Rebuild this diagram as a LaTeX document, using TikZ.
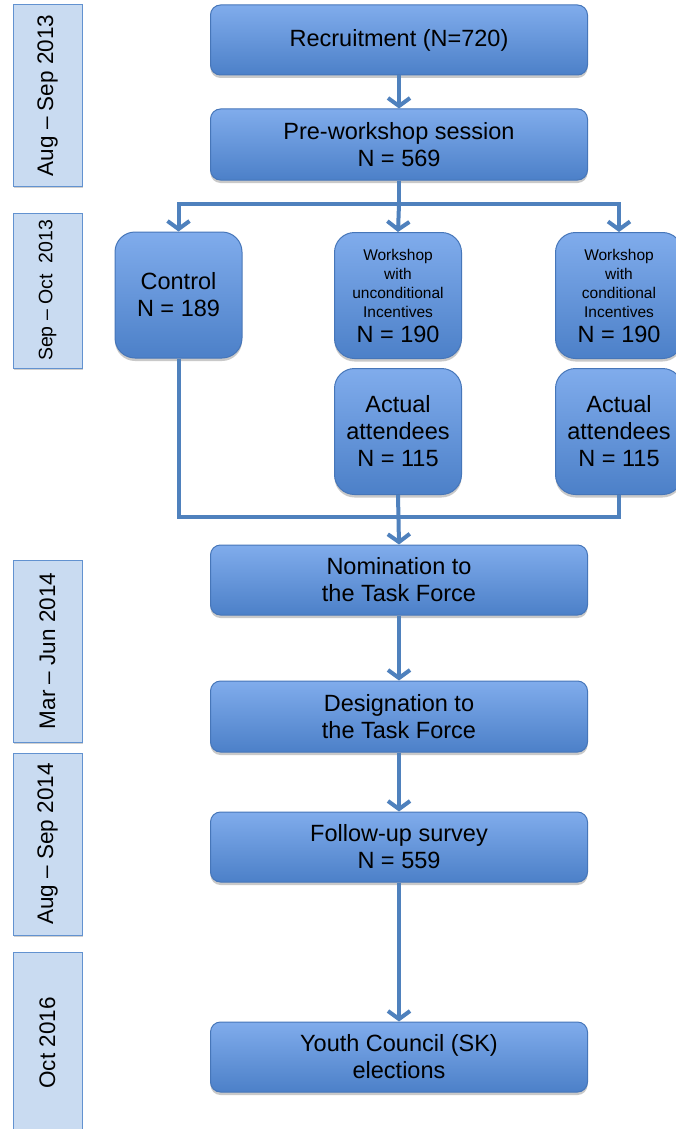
\documentclass[tikz,border=0pt]{standalone}
\usepackage{fontspec}
\setmainfont{Liberation Sans}
\usetikzlibrary{arrows.meta,shadows,positioning}
\definecolor{linec}{RGB}{79,129,189}
\definecolor{boxtop}{RGB}{128,172,236}
\definecolor{boxbot}{RGB}{76,128,200}
\definecolor{boxedge}{RGB}{70,118,185}
\definecolor{sidefill}{RGB}{201,219,241}
\definecolor{sideedge}{RGB}{98,146,208}
\tikzset{
  mainbox/.style={draw=boxedge, line width=1pt, top color=boxtop, bottom color=boxbot,
    rounded corners=10pt, minimum width=377pt, minimum height=70pt, align=center,
    inner sep=0pt, font=\fontsize{23.5}{27}\selectfont,
    drop shadow={shadow xshift=0pt, shadow yshift=-3pt, opacity=0.35, fill=black!60}},
  smallbox/.style={mainbox, rounded corners=20pt, minimum width=127pt, minimum height=126pt},
  sidebox/.style={draw=sideedge, line width=1pt, fill=sidefill, rotate=90,
    minimum height=69pt, inner sep=0pt, font=\fontsize{22.5}{26}\selectfont,
    drop shadow={shadow xshift=1pt, shadow yshift=-2pt, opacity=0.3, fill=black!60}},
  conn/.style={draw=linec, line width=4pt},
  arr/.style={conn, -{Straight Barb[length=8pt,width=22pt]}},
}
\begin{document}
\begin{tikzpicture}[x=1pt,y=-1pt]
\useasboundingbox[fill=white] (0,0) rectangle (675,1129);

% side boxes
\node[sidebox, minimum width=181pt] (s1) at (47.5,95.5) {Aug -- Sep 2013};
\node[sidebox, minimum width=155pt, font=\fontsize{19.5}{23}\selectfont] (s2) at (47.5,290.5) {Sep -- Oct\ \ 2013};
\node[sidebox, minimum width=182pt] (s3) at (47.5,651) {Mar -- Jun 2014};
\node[sidebox, minimum width=182pt] (s4) at (47.5,844) {Aug -- Sep 2014};
\node[sidebox, minimum width=182pt] (s5) at (47.5,1043) {Oct 2016};

% main boxes
\node[mainbox] (rec) at (399,40) {Recruitment (N=720)};
\node[mainbox, minimum height=71pt] (pre) at (399,144.5) {Pre-workshop session\\N = 569};
\node[smallbox] (ctrl) at (178.5,295) {Control\\N = 189};
\node[smallbox, font=\fontsize{15.5}{19}\selectfont] (wu) at (398,295.5)
  {Workshop\\with\\unconditional\\Incentives\\[6pt]{\fontsize{23.5}{27}\selectfont N = 190}};
\node[smallbox] (au) at (398,431.5) {Actual\\attendees\\N = 115};
\node[smallbox, font=\fontsize{15.5}{19}\selectfont] (wc) at (619,295.5)
  {Workshop\\with\\conditional\\Incentives\\[6pt]{\fontsize{23.5}{27}\selectfont N = 190}};
\node[smallbox] (ac) at (619,431.5) {Actual\\attendees\\N = 115};
\node[mainbox] (nom) at (399,580) {Nomination to\\the Task Force};
\node[mainbox, minimum height=71pt] (des) at (399,716.5) {Designation to\\the Task Force};
\node[mainbox] (fol) at (399,847) {Follow-up survey\\N = 559};
\node[mainbox] (you) at (399,1057) {Youth Council (SK)\\elections};

% connectors
\coordinate (j1) at (399,204);
\coordinate (j2) at (399,517);
\draw[arr] (rec.south) -- (pre.north);
\draw[conn] (pre.south) -- (j1);
\draw[arr] (j1) -| (ctrl.north);
\draw[arr] (j1) -| (wc.north);
\draw[arr] (j1) -- (wu.north);
\draw[conn] (ctrl.south) |- (j2) -| (ac.south);
\draw[arr] (au.south) -- (nom.north);
\draw[arr] (nom.south) -- (des.north);
\draw[arr] (des.south) -- (fol.north);
\draw[arr] (fol.south) -- (you.north);
\end{tikzpicture}
\end{document}
